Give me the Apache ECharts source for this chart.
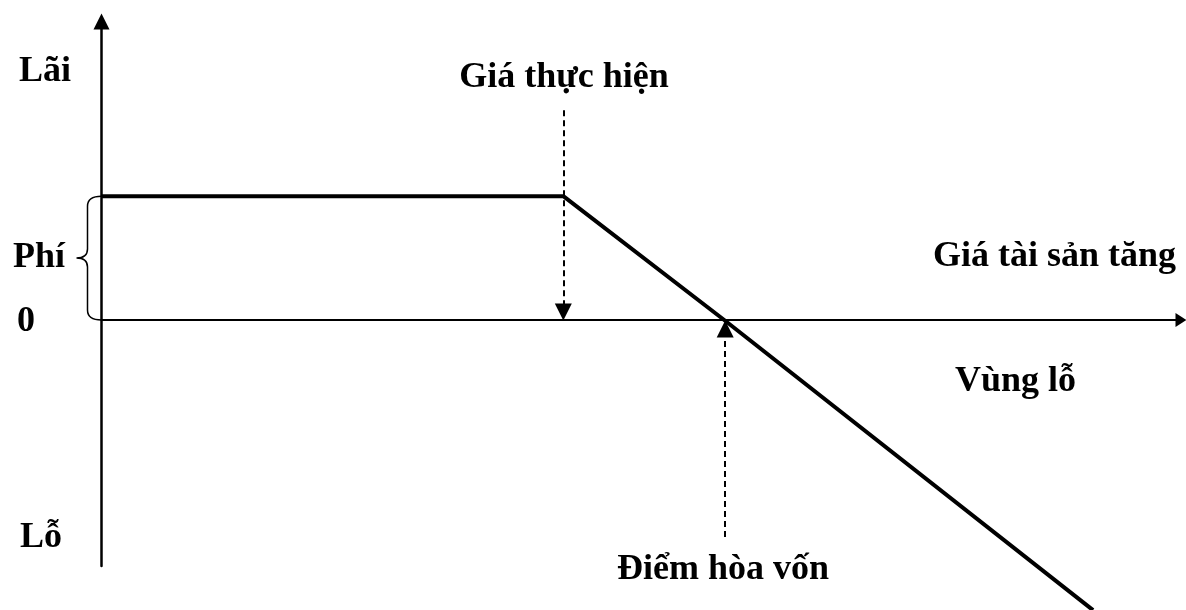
<!DOCTYPE html>
<html>
<head>
<meta charset="utf-8">
<title>Bán quyền chọn mua</title>
<script src="https://cdn.jsdelivr.net/npm/echarts@6/dist/echarts.min.js"></script>
<style>
  html, body { margin: 0; padding: 0; background: #fff; }
  #chart { width: 1186px; height: 610px; }
</style>
</head>
<body>
<div id="chart"></div>
<script>
// khung trục (đơn vị tùy ý)
const xRange = [0, 108]
const yRange = [-8.24, 10]

// đường lãi/lỗ: phẳng ở mức phí, rồi dốc xuống sau giá thực hiện
const payoffX = [0, 46.2, 62.3, 99.2]
const payoffY = [4.15, 4.15, 0, -9.72]

// mũi tên nét đứt
const strikeArrow = { x: 46.2, from: 7.03, to: 0.27 }
const breakEvenArrow = { x: 62.4, from: -7.27, to: -0.3 }

// ngoặc "Phí": từ 0 lên mức phí
const premiumBrace = [0, 4.15]

const font = 'Liberation Serif, Times New Roman, serif'
const ink = '#000'

const chart = echarts.init(document.getElementById('chart'))

const textEl = (text, left, y, align) => ({
  type: 'text',
  x: left,
  y: y,
  style: {
    text: text,
    font: 'bold 36px ' + font,
    fill: ink,
    align: align || 'left',
    verticalAlign: 'middle'
  }
})

const option = {
  animation: false,
  backgroundColor: '#fff',
  grid: { left: 101.5, right: 5, top: 21.5, bottom: 44 },
  xAxis: {
    type: 'value',
    min: xRange[0],
    max: xRange[1],
    axisLine: {
      onZero: true,
      symbol: ['none', 'triangle'],
      symbolSize: [14, 11],
      lineStyle: { color: ink, width: 2 }
    },
    axisTick: { show: false },
    axisLabel: { show: false },
    splitLine: { show: false }
  },
  yAxis: {
    type: 'value',
    min: yRange[0],
    max: yRange[1],
    axisLine: {
      onZero: false,
      symbol: ['none', 'triangle'],
      symbolSize: [16, 16],
      lineStyle: { color: ink, width: 2.5 }
    },
    axisTick: { show: false },
    axisLabel: { show: false },
    splitLine: { show: false }
  },
  series: [
    {
      type: 'line',
      data: payoffX.map((x, i) => [x, payoffY[i]]),
      symbol: 'none',
      clip: false,
      lineStyle: { color: ink, width: 4 },
      silent: true,
      markLine: {
        silent: true,
        symbol: ['none', 'triangle'],
        symbolSize: [17, 17],
        label: { show: false },
        lineStyle: { color: ink, width: 2, type: [6, 4] },
        data: [
          [{ coord: [strikeArrow.x, strikeArrow.from] }, { coord: [strikeArrow.x, strikeArrow.to] }],
          [{ coord: [breakEvenArrow.x, breakEvenArrow.from] }, { coord: [breakEvenArrow.x, breakEvenArrow.to] }]
        ]
      }
    },
    {
      // ngoặc nhọn bên trái trục tung
      type: 'custom',
      clip: false,
      silent: true,
      data: [premiumBrace],
      renderItem: (params, api) => {
        const bot = api.coord([0, api.value(0)])
        const top = api.coord([0, api.value(1)])
        const x0 = top[0]
        const sp = x0 - 14
        const tip = x0 - 25
        const mid = (top[1] + bot[1]) / 2
        const d = [
          'M', x0, top[1],
          'Q', sp, top[1], sp, top[1] + 10,
          'L', sp, mid - 9,
          'Q', sp, mid, tip, mid,
          'Q', sp, mid, sp, mid + 9,
          'L', sp, bot[1] - 10,
          'Q', sp, bot[1], x0, bot[1]
        ].join(' ')
        return {
          type: 'path',
          shape: { pathData: d },
          style: { stroke: ink, fill: 'none', lineWidth: 1.5 }
        }
      }
    }
  ],
  graphic: [
    textEl('Lãi', 19, 72),
    textEl('Giá thực hiện', 564, 78, 'center'),
    textEl('Phí', 13, 258),
    textEl('0', 17, 322),
    textEl('Giá tài sản tăng', 933, 257),
    textEl('Vùng lỗ', 955, 382),
    textEl('Lỗ', 20, 538),
    textEl('Điểm hòa vốn', 723, 570, 'center')
  ]
}

chart.setOption(option)
</script>
</body>
</html>
